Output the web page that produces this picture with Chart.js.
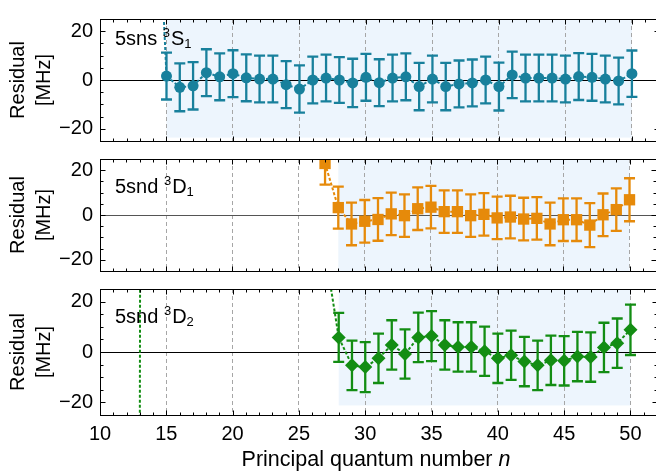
<!DOCTYPE html>
<html>
<head>
<meta charset="utf-8">
<script src="https://cdn.jsdelivr.net/npm/chart.js@4.4.1/dist/chart.umd.min.js"></script>
<style>
	html, body { margin: 0; padding: 0; background: #fff; overflow: hidden; width: 656px; height: 475px; }
	#wrap { position: relative; width: 664px; height: 475px; }
	canvas { position: absolute; left: 0; }
</style>
</head>
<body>
<div id="wrap">
	<canvas id="panelS1" width="664" height="160" style="top:0px"></canvas>
	<canvas id="panelD1" width="664" height="150" style="top:140px"></canvas>
	<canvas id="panelD2" width="664" height="205" style="top:270px"></canvas>
</div>
<script>
// principal quantum numbers and fit residuals (MHz) for each series
var nS1 = [14, 15, 16, 17, 18, 19, 20, 21, 22, 23, 24, 25, 26, 27, 28, 29, 30, 31, 32, 33, 34, 35, 36, 37, 38, 39, 40, 41, 42, 43, 44, 45, 46, 47, 48, 49, 50];
var resS1 = [120, 1.6, -3.0, -2.4, 3.0, 1.3, 2.6, 0.9, 0.4, 0.4, -1.9, -3.7, 0.0, 0.8, 0.0, -1.2, 1.1, -1.1, 0.8, 1.3, -2.7, 0.4, -2.7, -1.6, -1.2, 0.0, -2.7, 2.1, 0.8, 0.8, 0.8, 0.4, 1.4, 1.1, 0.4, -0.4, 2.6];
var errS1 = [9.6, 9.6, 9.8, 9.7, 9.6, 9.6, 9.6, 9.6, 9.6, 9.6, 9.6, 9.7, 9.6, 9.6, 9.4, 9.9, 9.6, 9.6, 9.6, 9.6, 9.7, 9.6, 9.7, 9.6, 9.6, 9.6, 9.8, 9.5, 9.6, 9.6, 9.6, 9.6, 9.6, 9.6, 9.6, 9.6, 9.5];

var nD1 = [27, 28, 29, 30, 31, 32, 33, 34, 35, 36, 37, 38, 39, 40, 41, 42, 43, 44, 45, 46, 47, 48, 49, 50];
var resD1 = [23.0, 3.3, -4.0, -2.8, -2.0, 0.5, -0.3, 2.8, 3.5, 1.5, 1.5, -0.3, 0.3, -1.3, -0.9, -1.8, -1.5, -4.0, -2.1, -2.1, -4.5, 0.1, 2.4, 6.8];
var errD1 = [9.4, 9.4, 9.5, 9.5, 9.5, 9.5, 9.5, 9.5, 9.5, 9.5, 9.5, 9.5, 9.5, 9.5, 9.5, 9.5, 9.5, 9.5, 9.5, 9.5, 9.8, 9.5, 9.5, 9.6];

var nD2 = [13, 14, 27, 28, 29, 30, 31, 32, 33, 34, 35, 36, 37, 38, 39, 40, 41, 42, 43, 44, 45, 46, 47, 48, 49, 50];
var resD2 = [-40, 3000, 39, 5.8, -5.3, -6.0, -2.5, 2.8, -0.8, 5.8, 6.3, 2.8, 2.0, 2.0, 0.3, -2.5, -1.3, -3.8, -5.3, -3.3, -3.5, -1.8, -2.0, 1.8, 3.5, 8.8];
var errD2 = [9.8, 9.8, 9.8, 9.7, 9.8, 9.9, 9.8, 9.8, 9.8, 9.8, 9.9, 9.8, 9.8, 9.8, 9.8, 9.8, 9.8, 9.8, 9.8, 9.8, 9.8, 9.8, 9.8, 9.8, 9.8, 10.0];

// shaded n ranges per series
var shadeS1 = [15, 50];
var shadeD1 = [28, 50];
var shadeD2 = [28, 50];

var xTickLabels = [10, 15, 20, 25, 30, 35, 40, 45, 50];
var yTickLabels = [-20, 0, 20];

var FONT = "'Liberation Sans', Arial, Helvetica, sans-serif";
Chart.defaults.font.family = FONT;
Chart.defaults.font.size = 20;
Chart.defaults.color = '#000';

function toPoints(ns, vals) {
	var pts = [];
	for (var i = 0; i < ns.length; i++) {
		pts.push({x: ns[i], y: vals[i]});
	}
	return pts;
}

function minusSign(v) {
	return String(v).replace('-', '\u2212');
}

// shading, zero line, error bars, frame, inward ticks and text
var panelDecor = {
	id: 'panelDecor',
	beforeDraw: function(chart, args, o) {
		var ctx = chart.ctx, a = chart.chartArea;
		var xs = chart.scales.x, ys = chart.scales.y;
		ctx.save();
		ctx.fillStyle = '#edf5fd';
		var x0 = xs.getPixelForValue(o.shade[0]);
		var x1 = xs.getPixelForValue(o.shade[1]);
		var yb = ys.getPixelForValue(o.shadeFloor);
		ctx.fillRect(x0, a.top, x1 - x0, yb - a.top);
		ctx.restore();
	},
	beforeDatasetsDraw: function(chart, args, o) {
		var ctx = chart.ctx, a = chart.chartArea;
		var xs = chart.scales.x, ys = chart.scales.y;
		ctx.save();
		ctx.beginPath();
		ctx.rect(a.left, a.top, a.right - a.left, a.bottom - a.top);
		ctx.clip();
		// zero line
		var y0 = Math.round(ys.getPixelForValue(0)) + 0.5;
		ctx.strokeStyle = o.zeroColor;
		ctx.lineWidth = 1.2;
		ctx.beginPath();
		ctx.moveTo(a.left, y0);
		ctx.lineTo(a.right, y0);
		ctx.stroke();
		// error bars
		ctx.strokeStyle = o.color;
		ctx.lineWidth = 2.3;
		for (var i = 0; i < o.n.length; i++) {
			var px = xs.getPixelForValue(o.n[i]);
			var yt = ys.getPixelForValue(o.res[i] + o.err[i]);
			var yb = ys.getPixelForValue(o.res[i] - o.err[i]);
			ctx.beginPath();
			ctx.moveTo(px, yt);
			ctx.lineTo(px, yb);
			ctx.moveTo(px - 5.5, yt);
			ctx.lineTo(px + 5.5, yt);
			ctx.moveTo(px - 5.5, yb);
			ctx.lineTo(px + 5.5, yb);
			ctx.stroke();
		}
		ctx.restore();
	},
	afterDraw: function(chart, args, o) {
		var ctx = chart.ctx, a = chart.chartArea;
		var xs = chart.scales.x, ys = chart.scales.y;
		var i, p;
		ctx.save();
		ctx.strokeStyle = '#000';
		ctx.lineWidth = 1;
		var L = Math.round(a.left) + 0.5, R = Math.round(a.right) + 0.5;
		var T = Math.round(a.top) + 0.5, B = Math.round(a.bottom) + 0.5;
		ctx.strokeRect(L, T, R - L, B - T);
		// x ticks, top and bottom, pointing in
		ctx.beginPath();
		for (i = 10; i <= 52; i++) {
			p = Math.round(xs.getPixelForValue(i)) + 0.5;
			var len = (i % 5 === 0) ? 5 : 3;
			ctx.moveTo(p, B); ctx.lineTo(p, B - len);
			ctx.moveTo(p, T); ctx.lineTo(p, T + len);
		}
		// y ticks, left and right
		for (i = -25; i <= 25; i += 5) {
			p = Math.round(ys.getPixelForValue(i)) + 0.5;
			var ylen = (i % 20 === 0) ? 5 : 3;
			ctx.moveTo(L, p); ctx.lineTo(L + ylen, p);
			ctx.moveTo(R, p); ctx.lineTo(R - ylen, p);
		}
		ctx.stroke();

		// series label with super/subscripts
		ctx.fillStyle = '#000';
		ctx.textAlign = 'left';
		ctx.textBaseline = 'alphabetic';
		var tx = 115, ty = a.top + o.labelDy;
		ctx.font = '20px ' + FONT;
		ctx.fillText(o.label[0] + ' ', tx, ty);
		tx += ctx.measureText(o.label[0] + ' ').width;
		ctx.font = '13px ' + FONT;
		ctx.fillText(o.label[1], tx, ty - 8);
		tx += ctx.measureText(o.label[1]).width + 1;
		ctx.font = '20px ' + FONT;
		ctx.fillText(o.label[2], tx, ty);
		tx += ctx.measureText(o.label[2]).width;
		ctx.font = '13px ' + FONT;
		ctx.fillText(o.label[3], tx, ty + 3);

		// y axis title, two lines
		var cy = (a.top + a.bottom) / 2;
		ctx.font = '20px ' + FONT;
		ctx.textAlign = 'center';
		ctx.translate(0, cy);
		ctx.rotate(-Math.PI / 2);
		ctx.fillText('Residual', 0, 24);
		ctx.fillText('[MHz]', 0, 50);
		ctx.restore();

		if (o.xTitle) {
			ctx.save();
			ctx.fillStyle = '#000';
			ctx.textBaseline = 'alphabetic';
			ctx.textAlign = 'left';
			var t1 = 'Principal quantum number ';
			ctx.font = '21.5px ' + FONT;
			var w1 = ctx.measureText(t1).width;
			ctx.font = 'italic 21.5px ' + FONT;
			var w2 = ctx.measureText('n').width;
			var sx = 376 - (w1 + w2) / 2;
			var by = a.bottom + 51;
			ctx.font = '21.5px ' + FONT;
			ctx.fillText(t1, sx, by);
			ctx.font = 'italic 21.5px ' + FONT;
			ctx.fillText('n', sx + w1, by);
			ctx.restore();
		}
	}
};

function makePanel(id, cfg) {
	return new Chart(document.getElementById(id), {
		type: 'line',
		data: {
			datasets: [{
				data: toPoints(cfg.n, cfg.res),
				borderColor: cfg.color,
				borderWidth: 2,
				borderDash: [3, 2],
				backgroundColor: cfg.color,
				pointStyle: cfg.marker,
				pointRadius: cfg.radius,
				pointBorderWidth: 0,
				pointBackgroundColor: cfg.color,
				tension: 0,
				clip: 0
			}]
		},
		options: {
			responsive: false,
			animation: false,
			events: [],
			layout: {padding: {left: 0, right: 5, top: cfg.padTop, bottom: cfg.padBottom}},
			plugins: {
				legend: {display: false},
				tooltip: {enabled: false},
				panelDecor: {
					n: cfg.n, res: cfg.res, err: cfg.err, color: cfg.color,
					shade: cfg.shade, shadeFloor: cfg.shadeFloor,
					zeroColor: cfg.zeroColor,
					label: cfg.label, labelDy: cfg.labelDy, xTitle: cfg.xTitle
				}
			},
			scales: {
				x: {
					type: 'linear',
					min: 10,
					max: 52,
					afterBuildTicks: function(scale) {
						scale.ticks = xTickLabels.map(function(v) { return {value: v}; });
					},
					afterFit: function(scale) { scale.height = cfg.xHeight; },
					ticks: {display: cfg.xTitle, padding: 7, maxRotation: 0, autoSkip: false},
					grid: {
						drawTicks: false,
						lineWidth: 1,
						color: function(c) { return c.tick && c.tick.value === 10 ? 'rgba(0,0,0,0)' : '#a6a6a6'; }
					},
					border: {display: false, dash: [4, 3]}
				},
				y: {
					type: 'linear',
					min: -25,
					max: 25,
					afterBuildTicks: function(scale) {
						scale.ticks = yTickLabels.map(function(v) { return {value: v}; });
					},
					afterFit: function(scale) { scale.width = 100; },
					ticks: {padding: 7, callback: function(v) { return minusSign(v); }},
					grid: {display: false, drawTicks: false},
					border: {display: false}
				}
			}
		},
		plugins: [panelDecor]
	});
}

makePanel('panelS1', {
	n: nS1, res: resS1, err: errS1, color: '#18809c', marker: 'circle', radius: 5.5,
	shade: shadeS1, shadeFloor: -23.6, zeroColor: '#000',
	label: ['5sns', '3', 'S', '1'], labelDy: 26,
	padTop: 14, padBottom: 12, xHeight: 0, xTitle: false
});
makePanel('panelD1', {
	n: nD1, res: resD1, err: errD1, color: '#e68a0a', marker: 'rect', radius: 8,
	shade: shadeD1, shadeFloor: -25, zeroColor: '#555',
	label: ['5snd', '3', 'D', '1'], labelDy: 34,
	padTop: 8, padBottom: 9, xHeight: 0, xTitle: false
});
makePanel('panelD2', {
	n: nD2, res: resD2, err: errD2, color: '#138d13', marker: 'rectRot', radius: 7,
	shade: shadeD2, shadeFloor: -21.2, zeroColor: '#000',
	label: ['5snd', '3', 'D', '2'], labelDy: 34,
	padTop: 11, padBottom: 0, xHeight: 60, xTitle: true
});
</script>
</body>
</html>
